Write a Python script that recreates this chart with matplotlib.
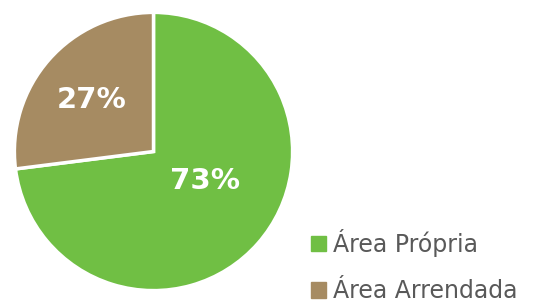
import matplotlib.pyplot as plt
from matplotlib.patches import Patch
import numpy as np

labels = ['Área Própria', 'Área Arrendada']
values = [73, 27]
colors = ['#70BF44', '#A68B62']

fig = plt.figure(figsize=(5.41, 3.03), dpi=100)
ax = fig.add_axes([12/541, 11/303, 283/541, 281/303])
wedges, texts, autotexts = ax.pie(values, colors=colors, startangle=90, counterclock=False,
                                  autopct='%d%%', wedgeprops=dict(edgecolor='white', linewidth=2.5),
                                  textprops=dict(color='white', fontsize=21, fontweight='bold'))
# nudge labels like the original
spots = [(-30, 0.43), (140, 0.58)]
for t, (ang, r) in zip(autotexts, spots):
    a = np.deg2rad(ang)
    t.set_position((r*np.cos(a), r*np.sin(a)))
ax.set_xlim(-1.01, 1.01)
ax.set_ylim(-1.01, 1.01)
ax.set_aspect('equal')

handles = [Patch(color=c) for c in colors]
fig.legend(handles, labels, loc='upper left', bbox_to_anchor=(311/541, 1-229/303),
           frameon=False, fontsize=17, labelcolor='#595959', handlelength=0.62,
           handleheight=0.62, handletextpad=0.3, labelspacing=0.95, borderpad=0, borderaxespad=0)

fig.savefig('out.png', dpi=100)
